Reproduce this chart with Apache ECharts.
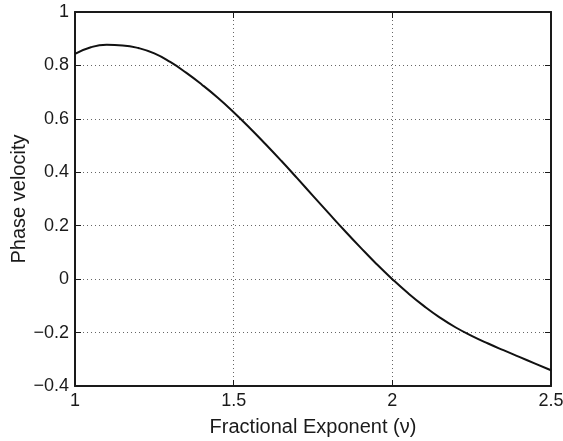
<!DOCTYPE html>
<html>
<head>
    <meta charset="utf-8">
    <title>Phase velocity</title>
    <script src="https://cdn.jsdelivr.net/npm/echarts@6/dist/echarts.min.js"></script>
    <style>
        html, body { margin: 0; padding: 0; background: #fff; }
        #chart { width: 563px; height: 441px; }
    </style>
</head>
<body>
<div id="chart"></div>
<script>
    // values
    var exponent = [1.0, 1.05, 1.1, 1.15, 1.2, 1.25, 1.3, 1.35, 1.4, 1.45, 1.5, 1.55, 1.6, 1.65, 1.7, 1.75,
        1.8, 1.85, 1.9, 1.95, 2.0, 2.05, 2.1, 2.15, 2.2, 2.25, 2.3, 2.35, 2.4, 2.45, 2.5];
    var velocity = [0.843, 0.868, 0.877, 0.875, 0.865, 0.845, 0.813, 0.773, 0.728, 0.679, 0.625, 0.567, 0.506,
        0.443, 0.378, 0.312, 0.246, 0.181, 0.118, 0.057, 0.0, -0.053, -0.101, -0.144, -0.181, -0.212, -0.24,
        -0.266, -0.291, -0.316, -0.341];
    var xTicks = [1, 1.5, 2, 2.5];
    var yTicks = [-0.4, -0.2, 0, 0.2, 0.4, 0.6, 0.8, 1];

    var font = 'Liberation Sans, Arial, Helvetica, sans-serif';
    var fmt = function (v) {
        return String(Math.round(v * 10) / 10).replace('-', '\u2212');
    };
    var lineCol = '#1a1a1a';
    var tick = { show: true, inside: true, length: 6, lineStyle: { color: lineCol, width: 1 } };
    var axisLine = { show: true, onZero: false, lineStyle: { color: lineCol, width: 2 } };
    var grid = { show: true, lineStyle: { type: [1, 3], color: '#666', width: 1 } };

    var chart = echarts.init(document.getElementById('chart'));
    chart.setOption({
        animation: false,
        grid: { left: 75, right: 12, top: 12, bottom: 55, containLabel: false, outerBoundsMode: 'none' },
        xAxis: [{
            type: 'value', min: xTicks[0], max: xTicks[xTicks.length - 1], interval: 0.5,
            position: 'bottom',
            name: 'Fractional Exponent (\u03bd)', nameLocation: 'middle', nameGap: 31,
            nameMoveOverlap: false,
            nameTextStyle: { fontFamily: font, fontSize: 20, color: '#1a1a1a' },
            axisLine: axisLine, axisTick: tick,
            axisLabel: { fontFamily: font, fontSize: 18, color: '#1a1a1a', margin: 6, formatter: fmt },
            splitLine: grid
        }, {
            type: 'value', min: xTicks[0], max: xTicks[xTicks.length - 1], interval: 0.5,
            position: 'top',
            axisLine: axisLine, axisTick: tick, axisLabel: { show: false }, splitLine: { show: false }
        }],
        yAxis: [{
            type: 'value', min: yTicks[0], max: yTicks[yTicks.length - 1], interval: 0.2,
            position: 'left',
            name: 'Phase velocity', nameLocation: 'middle', nameGap: 46,
            nameMoveOverlap: false,
            nameTextStyle: { fontFamily: font, fontSize: 20, color: '#1a1a1a' },
            axisLine: axisLine, axisTick: tick,
            axisLabel: { fontFamily: font, fontSize: 18, color: '#1a1a1a', margin: 6, formatter: fmt },
            splitLine: grid
        }, {
            type: 'value', min: yTicks[0], max: yTicks[yTicks.length - 1], interval: 0.2,
            position: 'right',
            axisLine: axisLine, axisTick: tick, axisLabel: { show: false }, splitLine: { show: false }
        }],
        series: [{
            type: 'line',
            xAxisIndex: 0, yAxisIndex: 0,
            data: exponent.map(function (x, i) { return [x, velocity[i]]; }),
            smooth: 0.5,
            showSymbol: false,
            lineStyle: { color: '#111', width: 2 }
        }]
    });
</script>
</body>
</html>
